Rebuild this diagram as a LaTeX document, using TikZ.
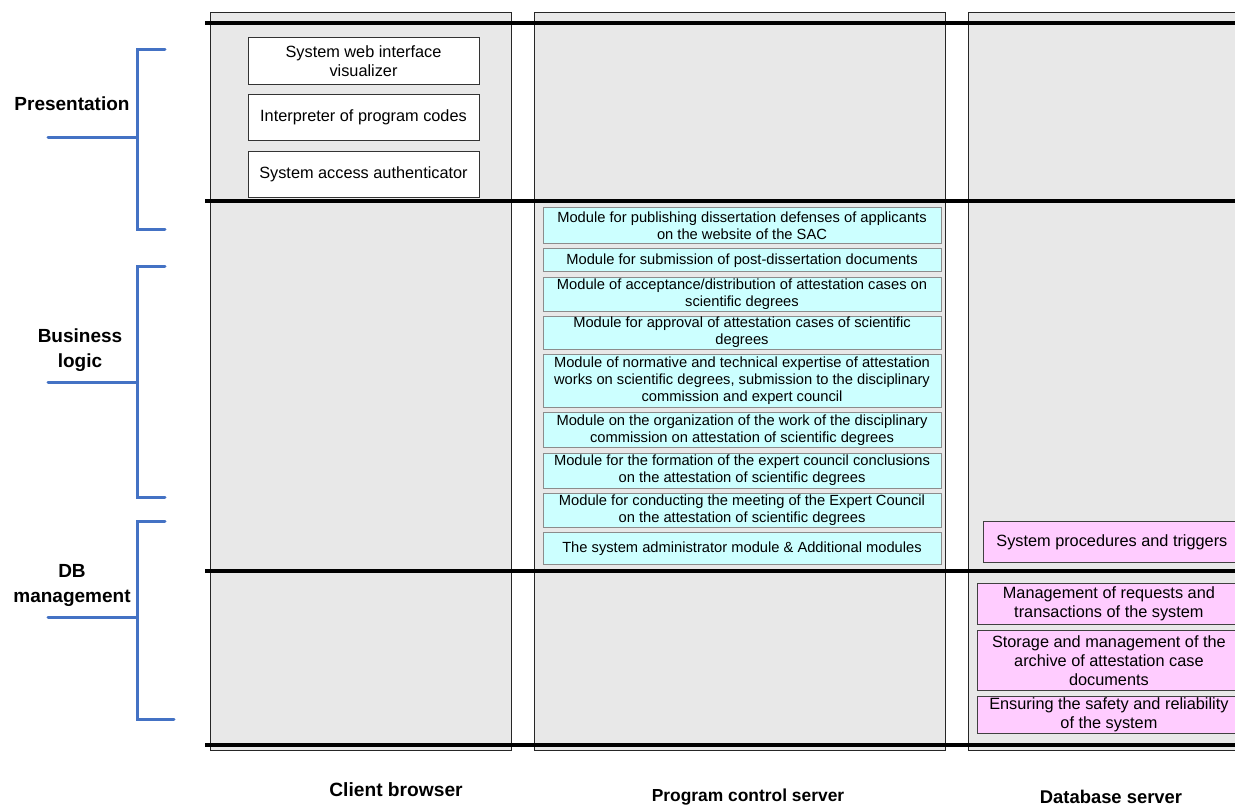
\documentclass[tikz,border=0pt]{standalone}
\usepackage{fontspec}
\setmainfont{Liberation Sans}
\usetikzlibrary{positioning}
\definecolor{ltPanel}{HTML}{E8E8E8}
\definecolor{ltModule}{HTML}{CCFFFF}
\definecolor{ltStore}{HTML}{FFCCFF}
\definecolor{ltBrace}{HTML}{4472C4}
\tikzset{
  panel/.style={draw=black!85, fill=ltPanel, line width=0.9pt, anchor=north west, inner sep=0pt},
  webbox/.style={
    draw=black!80, fill=white, line width=0.8pt, minimum width=231pt,
    align=center, inner sep=1pt, font=\fontsize{16.3}{19}\selectfont
  },
  modbox/.style={
    draw=black!45, fill=ltModule, line width=0.8pt, minimum width=398pt,
    align=center, inner sep=1pt, font=\fontsize{14.7}{17}\selectfont
  },
  dbbox/.style={
    draw=black!75, fill=ltStore, line width=0.8pt,
    align=center, inner sep=1pt, font=\fontsize{16.3}{19}\selectfont
  },
  tierline/.style={line width=3.5pt, black},
  bracket/.style={line width=3pt, ltBrace, line cap=round},
  lyrlabel/.style={font=\fontsize{19}{25}\selectfont\bfseries, align=center},
  srvlabel/.style={font=\bfseries}
}

\begin{document}
\begin{tikzpicture}[x=1pt, y=-1pt, node distance=4.5pt]
  \useasboundingbox (0,0) rectangle (1235,806);
  \clip (0,0) rectangle (1235,806);

  % server columns
  \node[panel, minimum width=301pt, minimum height=738pt] (client) at (210,12) {};
  \node[panel, minimum width=411pt, minimum height=738pt] (program) at (534,12) {};
  \node[panel, minimum width=280pt, minimum height=738pt] (dbserver) at (968,12) {};

  % tier borders
  \foreach \y in {23,201,571,745}
    \draw[tierline] (205,\y) -- (1245,\y);

  % client browser
  \node[webbox, minimum height=47pt, anchor=north] (visual) at (363.5,37) {System web interface\\visualizer};
  \node[webbox, minimum height=46pt, below=9.5pt of visual] (interp) {Interpreter of program codes};
  \node[webbox, minimum height=46pt, below=9.5pt of interp] (auth) {System access authenticator};

  % program control server
  \node[modbox, minimum height=36pt, anchor=north] (publish) at (742,207) {Module for publishing dissertation defenses of applicants\\on the website of the SAC};
  \node[modbox, minimum height=23pt, below=of publish] (submit) {Module for submission of post-dissertation documents};
  \node[modbox, minimum height=34pt, below=of submit] (accept) {Module of acceptance/distribution of attestation cases on\\scientific degrees};
  \node[modbox, minimum height=32pt, below=of accept] (approve) {Module for approval of attestation cases of scientific\\degrees};
  \node[modbox, minimum height=53pt, below=of approve] (expert) {Module of normative and technical expertise of attestation\\works on scientific degrees, submission to the disciplinary\\commission and expert council};
  \node[modbox, minimum height=35pt, below=of expert] (discip) {Module on the organization of the work of the disciplinary\\commission on attestation of scientific degrees};
  \node[modbox, minimum height=35pt, below=of discip] (conclude) {Module for the formation of the expert council conclusions\\on the attestation of scientific degrees};
  \node[modbox, minimum height=34pt, below=of conclude] (meeting) {Module for conducting the meeting of the Expert Council\\on the attestation of scientific degrees};
  \node[modbox, minimum height=32pt, below=of meeting] (admin) {The system administrator module \& Additional modules};

  % database server
  \node[dbbox, minimum width=257pt, minimum height=41pt, anchor=north west] (sysproc) at (983,521) {System procedures and triggers};
  \node[dbbox, minimum width=263pt, minimum height=41pt, anchor=north west] (requests) at (977,583) {Management of requests and\\transactions of the system};
  \node[dbbox, minimum width=263pt, minimum height=60pt, below=5pt of requests] (storage) {Storage and management of the\\archive of attestation case\\documents};
  \node[dbbox, minimum width=263pt, minimum height=37pt, below=5pt of storage] (safety) {Ensuring the safety and reliability\\of the system};

  % layer brackets
  \foreach \top/\mid/\bot/\tip in {49/137/229/165, 266/382/497/165, 521/617/719/174} {
    \draw[bracket] (165,\top) -| (137,\bot) -- (\tip,\bot);
    \draw[bracket] (48,\mid) -- (137,\mid);
  }
  \node[lyrlabel] (present) at (72,104) {Presentation};
  \node[lyrlabel] (busi) at (80,350.5) {Business\\logic};
  \node[lyrlabel] (dbman) at (72,585) {DB\\management};

  % column titles
  \node[srvlabel, font=\fontsize{19.2}{22}\selectfont\bfseries] (clientname) at (396,790) {Client browser};
  \node[srvlabel, font=\fontsize{17.4}{22}\selectfont\bfseries] (progname) at (748,797) {Program control server};
  \node[srvlabel, font=\fontsize{18.4}{22}\selectfont\bfseries] (dbname) at (1111,797) {Database server};
\end{tikzpicture}
\end{document}
